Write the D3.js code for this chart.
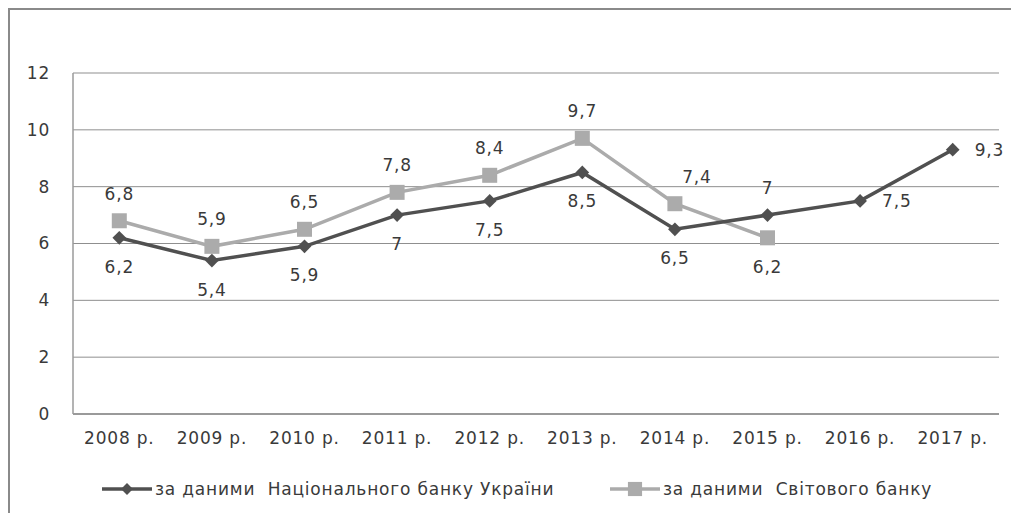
<html lang="uk">
<head>
  <meta charset="UTF-8">
  <title>Chart</title>
  <script src="https://cdn.jsdelivr.net/npm/d3@7"></script>
  <style>
    body { margin: 0; background: #fff; }
    text { font-family: "DejaVu Sans", Verdana, sans-serif; fill: #3a3a3a; letter-spacing: 0.8px; }
  </style>
</head>
<body>
  <svg width="1011" height="513"></svg>

  <script>
    // categories and series
    const years = ["2008 р.", "2009 р.", "2010 р.", "2011 р.", "2012 р.", "2013 р.", "2014 р.", "2015 р.", "2016 р.", "2017 р."];
    const nbu = [6.2, 5.4, 5.9, 7, 7.5, 8.5, 6.5, 7, 7.5, 9.3];
    const wb = [6.8, 5.9, 6.5, 7.8, 8.4, 9.7, 7.4, 6.2];
    const yTicks = [0, 2, 4, 6, 8, 10, 12];
    const seriesNames = ["за даними  Національного банку України", "за даними  Світового банку"];
    // where each data label sits relative to its point
    const nbuLabelPos = ["below", "below", "below", "below", "below", "below", "below", "above", "right", "right"];
    const wbLabelPos = ["above", "above", "above", "above", "above", "above", "aboveRight", "below"];

    const svg = d3.select("svg");
    const plot = { left: 73, right: 999, top: 73, bottom: 414 };

    // outer frame (only top/left are inside the picture)
    svg.append("rect")
      .attr("x", 9).attr("y", 9)
      .attr("width", 1100).attr("height", 600)
      .attr("fill", "none").attr("stroke", "#8a8a8a").attr("stroke-width", 2);

    const x = d3.scaleBand().domain(years).range([plot.left, plot.right]).padding(0);
    const y = d3.scaleLinear().domain([0, 12]).range([plot.bottom, plot.top]);
    const cx = i => x(years[i]) + x.bandwidth() / 2;

    // gridlines
    svg.append("g")
      .selectAll("line")
      .data(yTicks)
      .join("line")
      .attr("x1", plot.left).attr("x2", plot.right)
      .attr("y1", d => y(d)).attr("y2", d => y(d))
      .attr("stroke", d => d === 0 ? "#9a9a9a" : "#8f8f8f")
      .attr("stroke-width", d => d === 0 ? 2 : 1);

    // y axis line
    svg.append("line")
      .attr("x1", plot.left).attr("x2", plot.left)
      .attr("y1", plot.top).attr("y2", plot.bottom)
      .attr("stroke", "#9a9a9a").attr("stroke-width", 1.5);

    // y tick labels
    const yAxis = svg.append("g")
      .attr("transform", `translate(${plot.left},0)`)
      .call(d3.axisLeft(y).tickValues(yTicks).tickSize(0).tickPadding(23));
    yAxis.select(".domain").remove();
    yAxis.selectAll("text")
      .style("font-size", "17px")
      .style("font-family", "DejaVu Sans, Verdana, sans-serif")
      .attr("fill", "#3a3a3a");

    // x tick labels
    const xAxis = svg.append("g")
      .attr("transform", `translate(0,${plot.bottom})`)
      .call(d3.axisBottom(x).tickSize(0).tickPadding(18));
    xAxis.select(".domain").remove();
    xAxis.selectAll("text")
      .style("font-size", "17px")
      .style("font-family", "DejaVu Sans, Verdana, sans-serif")
      .attr("fill", "#3a3a3a");

    const line = d3.line().x((d, i) => cx(i)).y(d => y(d));

    const nbuColor = "#505050";
    const wbColor = "#ababab";

    // world bank series
    svg.append("path")
      .datum(wb)
      .attr("d", line)
      .attr("fill", "none").attr("stroke", wbColor).attr("stroke-width", 3.5);
    svg.append("g")
      .selectAll("rect")
      .data(wb)
      .join("rect")
      .attr("x", (d, i) => cx(i) - 7.5).attr("y", d => y(d) - 7.5)
      .attr("width", 15).attr("height", 15)
      .attr("fill", wbColor);

    // NBU series
    svg.append("path")
      .datum(nbu)
      .attr("d", line)
      .attr("fill", "none").attr("stroke", nbuColor).attr("stroke-width", 3.5);
    svg.append("g")
      .selectAll("path")
      .data(nbu)
      .join("path")
      .attr("d", d3.symbol(d3.symbolDiamond2, 120))
      .attr("transform", (d, i) => `translate(${cx(i)},${y(d)})`)
      .attr("fill", nbuColor);

    // data labels
    const fmt = v => String(v).replace(".", ",");
    function labelAttrs(sel, values, pos) {
      sel.selectAll("text")
        .data(values)
        .join("text")
        .attr("x", (d, i) => cx(i) + (pos[i] === "right" ? 22 : pos[i] === "aboveRight" ? 22 : 0))
        .attr("y", (d, i) => y(d) + (pos[i] === "below" ? 29 : pos[i] === "right" ? 0 : -27))
        .attr("dy", "0.35em")
        .attr("text-anchor", (d, i) => pos[i] === "right" ? "start" : "middle")
        .style("font-size", "17px")
        .text(fmt);
    }
    labelAttrs(svg.append("g"), nbu, nbuLabelPos);
    labelAttrs(svg.append("g"), wb, wbLabelPos);

    // legend
    const legendY = 489;
    const legend = [
      { x: 102, color: nbuColor, name: seriesNames[0], marker: "diamond" },
      { x: 610, color: wbColor, name: seriesNames[1], marker: "square" }
    ];
    const lg = svg.append("g").selectAll("g").data(legend).join("g")
      .attr("transform", d => `translate(${d.x},${legendY})`);
    lg.append("line")
      .attr("x1", 0).attr("x2", 50)
      .attr("stroke", d => d.color).attr("stroke-width", 3.5);
    lg.append("path")
      .attr("d", d => d.marker === "diamond"
        ? d3.symbol(d3.symbolDiamond2, 90)()
        : d3.symbol(d3.symbolSquare, 200)())
      .attr("transform", "translate(25,0)")
      .attr("fill", d => d.color);
    lg.append("text")
      .attr("x", 53).attr("dy", "0.35em")
      .style("font-size", "17px")
      .style("white-space", "pre")
      .attr("xml:space", "preserve")
      .text(d => d.name);
  </script>
</body>
</html>
